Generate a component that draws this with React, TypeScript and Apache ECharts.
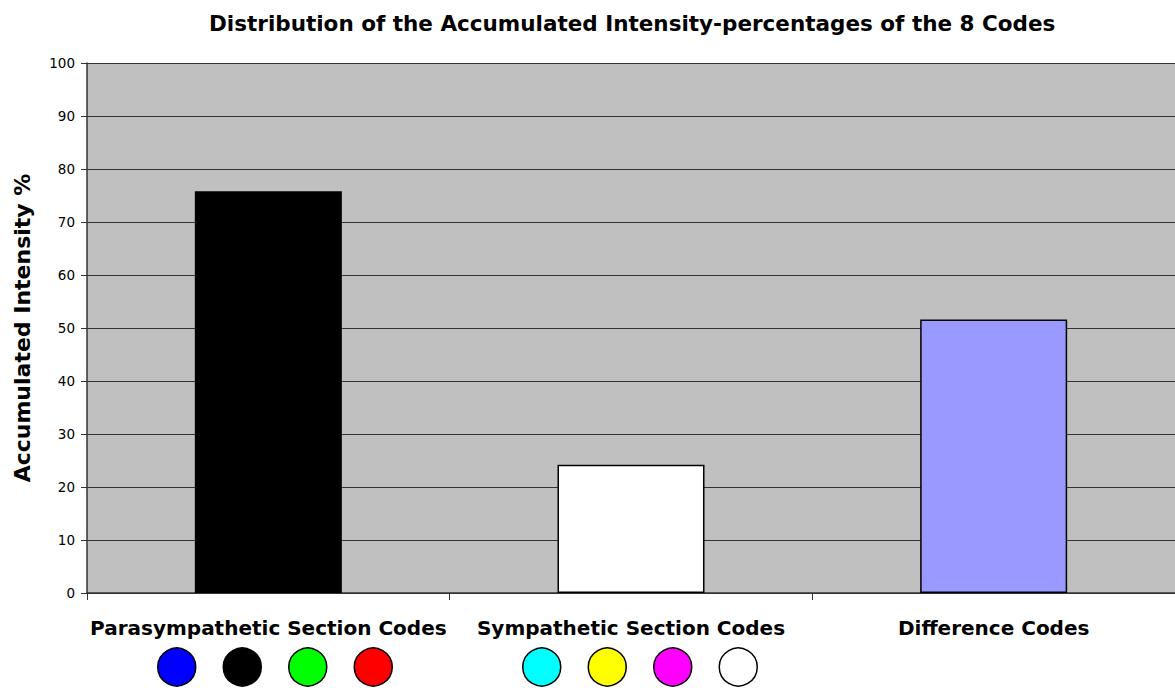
import React, { useEffect, useRef } from "react";
import * as echarts from "echarts";

const categories = ["Parasympathetic Section Codes", "Sympathetic Section Codes", "Difference Codes"];
const values = [75.8, 24.2, 51.6];
const barColors = ["#000000", "#ffffff", "#9999ff"];
const paraCodeColors = ["#0000ff", "#000000", "#00ff00", "#ff0000"];
const sympCodeColors = ["#00ffff", "#ffff00", "#ff00ff", "#ffffff"];

export default function App() {
  const ref = useRef<HTMLDivElement>(null);
  useEffect(() => {
    if (!ref.current) return;
    const chart = echarts.init(ref.current, undefined, { renderer: "svg" });
    const font = "'DejaVu Sans', Verdana, sans-serif";
    const gridLeft = 87, gridTop = 63, gridW = 1095, gridH = 530;
    const catW = gridW / categories.length;
    const circles: any[] = [];
    const addCircles = (colors: string[], catIdx: number) => {
      const center = gridLeft + catW * (catIdx + 0.5) + 5.5;
      const spacing = 65.5;
      colors.forEach((c, i) => {
        circles.push({
          type: "circle",
          shape: { cx: center + (i - 1.5) * spacing, cy: 667, r: 19 },
          style: { fill: c, stroke: "#000", lineWidth: 1.5 },
        });
      });
    };
    addCircles(paraCodeColors, 0);
    addCircles(sympCodeColors, 1);
    chart.setOption({
      animation: false,
      backgroundColor: "#ffffff",
      textStyle: { fontFamily: font },
      title: {
        text: "Distribution of the Accumulated Intensity-percentages of the 8 Codes",
        left: 204,
        top: 7,
        textStyle: { fontFamily: font, fontSize: 21.5, fontWeight: "bold", color: "#000" },
      },
      grid: {
        left: gridLeft,
        top: gridTop,
        width: gridW,
        height: gridH,
        show: true,
        backgroundColor: "#c0c0c0",
        borderWidth: 0,
      },
      xAxis: {
        type: "category",
        data: categories,
        axisLine: { show: true, lineStyle: { color: "#333", width: 1.5 } },
        axisTick: { show: true, alignWithLabel: false, length: 7, lineStyle: { color: "#333" } },
        axisLabel: {
          fontFamily: font,
          fontSize: 20,
          fontWeight: "bold",
          color: "#000",
          margin: 25,
          interval: 0,
        },
      },
      yAxis: {
        type: "value",
        min: 0,
        max: 100,
        interval: 10,
        name: "Accumulated Intensity %",
        nameLocation: "middle",
        nameGap: 54,
        nameTextStyle: { fontFamily: font, fontSize: 22, fontWeight: "bold", color: "#000" },
        axisLine: { show: true, lineStyle: { color: "#333", width: 1.5 } },
        axisTick: { show: true, length: 6, lineStyle: { color: "#333" } },
        axisLabel: { fontFamily: font, fontSize: 13.5, color: "#000", margin: 12 },
        splitLine: { show: true, lineStyle: { color: "#333", width: 1 } },
      },
      series: [
        {
          type: "bar",
          barWidth: 147,
          data: values.map((v, i) => ({
            value: v,
            itemStyle: { color: barColors[i], borderColor: "#000", borderWidth: 1.5 },
          })),
        },
      ],
      graphic: circles,
    });
    return () => chart.dispose();
  }, []);
  return (
    <div
      ref={ref}
      style={{ position: "fixed", left: 0, top: 0, width: 1175, height: 690 }}
    />
  );
}
